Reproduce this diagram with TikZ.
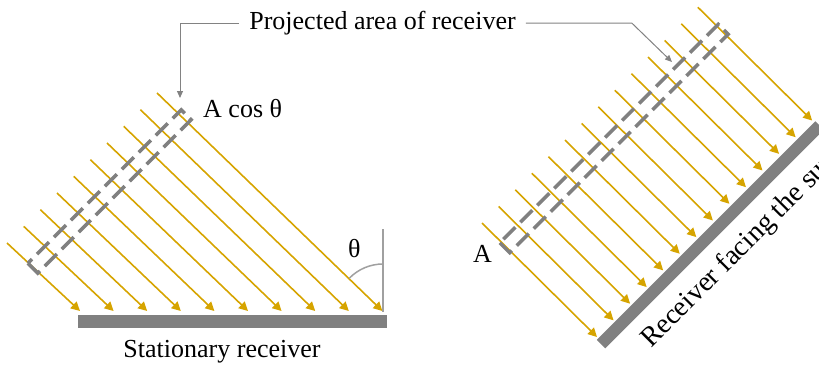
\documentclass[tikz,border=0pt]{standalone}
\usepackage{fontspec}
\setmainfont{Liberation Serif}
\usetikzlibrary{arrows.meta}
\definecolor{sun}{RGB}{214,164,0}
\definecolor{recv}{RGB}{128,128,128}
\definecolor{lead}{RGB}{130,130,130}
\definecolor{ang}{RGB}{160,160,160}
\begin{document}
\begin{tikzpicture}[x=1pt,y=-1pt,
  font=\fontsize{26}{30}\selectfont,
  ray/.style={draw=sun, line width=1.6pt, -{Triangle[length=9pt,width=9pt]}},
  dashbox/.style={draw=recv, line width=3.5pt, dash pattern=on 17pt off 7pt, line join=miter},
  leader/.style={draw=lead, line width=1pt, -{Triangle[length=7pt,width=6pt]}},
  lbl/.style={inner sep=0pt}]
\useasboundingbox (0,0) rectangle (819,365);

% left panel: rays onto stationary receiver
\foreach \i in {0,...,9}
  \draw[ray] ({7+16.67*\i},{243-16.67*\i}) -- ({80+33.6*\i},311);
\fill[recv] (78,315) rectangle (387,328);
\draw[dashbox] (27.85,263.25) -- (37.75,273.15) -- (191.15,119.75) -- (181.25,109.85) -- cycle;

% angle theta
\draw[ang, line width=2pt] (383,229) -- (383,312);
\draw[ang, line width=1.5pt] (383,264) arc[start angle=90, end angle=136, radius=47pt];
\node[lbl, anchor=base west] (theta) at (348,257) {θ};

\node[lbl, anchor=base west] (acos) at (203,117) {A cos θ};
\node[lbl, anchor=base] (stat) at (222,357) {Stationary receiver};

% right panel: rays onto receiver facing the sun
\foreach \i in {0,...,13}
  \draw[ray] ({482+16.6*\i},{223-16.6*\i}) -- ({597+16.55*\i},{337-16.65*\i});
\draw[recv, line width=12pt] (601,344) -- (819.5,125.5);
\draw[dashbox] (499.8,242.8) -- (509.7,252.7) -- (728.2,34.2) -- (718.3,24.3) -- cycle;
\node[lbl, anchor=base west] (a) at (473,262) {A};
\node[lbl, anchor=base west, rotate=45, font=\fontsize{28}{32}\selectfont] (facing) at (651,349) {Receiver facing the sun};

% callout
\node[inner ysep=0pt, inner xsep=10pt, anchor=base] (proj) at (382.5,29.5) {Projected area of receiver};
\coordinate (t1) at (180,98);
\coordinate (t2) at (672,62);
\draw[leader] (proj.west) -| (t1);
\draw[leader] (proj.east) -- ++(106,0) -- (t2);
\end{tikzpicture}
\end{document}
